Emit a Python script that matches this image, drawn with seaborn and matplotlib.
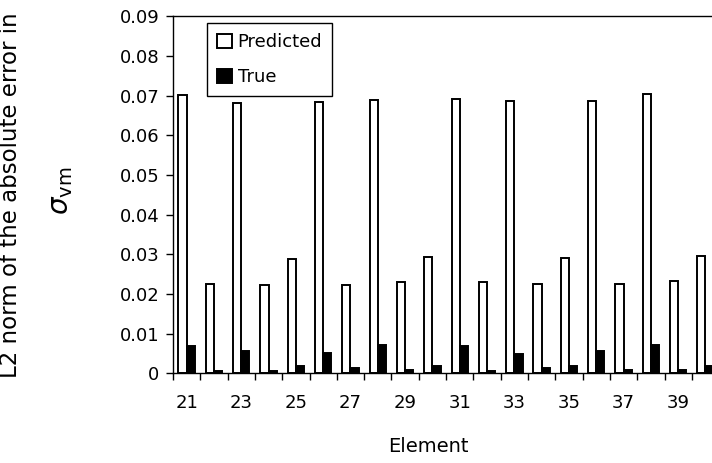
import numpy as np
import pandas as pd
import matplotlib
matplotlib.use("Agg")
import matplotlib.pyplot as plt
import seaborn as sns

# Element numbers and L2 error norms
elements = list(range(21, 41))
predicted = [0.0701, 0.0224, 0.0682, 0.0222, 0.0289, 0.0683, 0.0222, 0.0689, 0.0229, 0.0292,
             0.0690, 0.0229, 0.0686, 0.0224, 0.0290, 0.0686, 0.0224, 0.0703, 0.0232, 0.0296]
true_vals = [0.0069, 0.0006, 0.0055, 0.0006, 0.0017, 0.0050, 0.0013, 0.0072, 0.0008, 0.0018,
             0.0068, 0.0005, 0.0049, 0.0012, 0.0018, 0.0055, 0.0007, 0.0071, 0.0008, 0.0019]
y_ticks = [0, 0.01, 0.02, 0.03, 0.04, 0.05, 0.06, 0.07, 0.08, 0.09]
y_tick_labels = ["0", "0.01", "0.02", "0.03", "0.04", "0.05", "0.06", "0.07", "0.08", "0.09"]

df = pd.DataFrame({"Element": [str(e) for e in elements] * 2,
                   "Error": predicted + true_vals,
                   "Series": ["Predicted"] * len(elements) + ["True"] * len(elements)})

sns.set_style("ticks")
plt.rcParams["font.family"] = ["DejaVu Sans"]
plt.rcParams["mathtext.fontset"] = "dejavusans"
plt.rcParams["text.color"] = "black"
plt.rcParams["axes.labelcolor"] = "black"
plt.rcParams["xtick.color"] = "black"
plt.rcParams["ytick.color"] = "black"

fig = plt.figure(figsize=(7.12, 4.63), dpi=100)
ax = fig.add_axes([0.243, 0.194, 0.767, 0.771])

sns.barplot(data=df, x="Element", y="Error", hue="Series",
            order=[str(e) for e in elements],
            palette={"Predicted": "white", "True": "black"},
            edgecolor="black", linewidth=1.4, width=0.6, ax=ax)

ax.set_xlim(-0.5, len(elements) - 0.5)
ax.set_ylim(0, 0.09)
ax.set_yticks(y_ticks)
ax.set_yticklabels(y_tick_labels, fontsize=13)
ax.set_xticks(range(0, len(elements), 2))
ax.set_xticklabels([str(e) for e in elements[::2]], fontsize=13)
ax.set_xticks(np.arange(-0.5, len(elements), 1), minor=True)
ax.tick_params(axis="x", which="major", length=0, pad=15)
ax.tick_params(axis="x", which="minor", length=5, width=1, color="black")
ax.tick_params(axis="y", length=5, width=1, color="black", pad=5)

for side in ["left", "bottom", "top", "right"]:
    ax.spines[side].set_visible(True)
    ax.spines[side].set_color("black")
    ax.spines[side].set_linewidth(1)

ax.set_xlabel("Element", fontsize=14)
ax.xaxis.set_label_coords(0.467, -0.18)
ax.set_ylabel("L2 norm of the absolute error in", fontsize=16.5)
ax.yaxis.set_label_coords(-0.277, 0.5)
ax.text(-0.205, 0.51, r"$\sigma_{\mathrm{vm}}$", transform=ax.transAxes,
        rotation=90, fontsize=20, ha="center", va="center")

handles, labels = ax.get_legend_handles_labels()
ax.legend(handles, labels, loc="upper left", bbox_to_anchor=(0.062, 0.98),
          borderaxespad=0, fontsize=13, frameon=True, fancybox=False, framealpha=1,
          edgecolor="black", handlelength=0.85, handleheight=0.85,
          handletextpad=0.3, labelspacing=0.95, borderpad=0.55)
ax.get_legend().get_frame().set_linewidth(1)

fig.savefig("out.png", dpi=100)
